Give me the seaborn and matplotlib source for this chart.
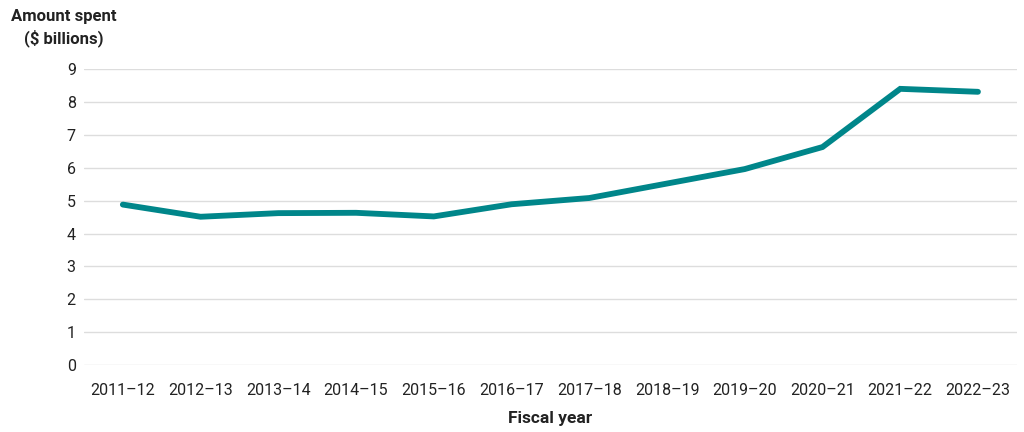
import seaborn as sns
import pandas as pd
import matplotlib.pyplot as plt

# Données
years = ["2011\u201312", "2012\u201313", "2013\u201314", "2014\u201315", "2015\u201316", "2016\u201317",
         "2017\u201318", "2018\u201319", "2019\u201320", "2020\u201321", "2021\u201322", "2022\u201323"]
amounts = [4.88, 4.51, 4.62, 4.63, 4.52, 4.89, 5.08, 5.52, 5.96, 6.63, 8.40, 8.31]

data = pd.DataFrame({"year": years, "amount": amounts})
data["pos"] = range(len(years))

sns.set_style("white")
plt.rcParams["font.family"] = ["Roboto", "DejaVu Sans"]

fig = plt.figure(figsize=(10.24, 4.32), dpi=100)
ax = fig.add_axes([0.082, 0.155, 0.911, 0.685])

sns.lineplot(data=data, x="pos", y="amount", ax=ax, color="#00868a",
             linewidth=4.2, solid_capstyle="round", solid_joinstyle="miter")
for l in ax.lines:
    l.set_clip_on(False)

ax.set_xlim(-0.5, 11.5)
ax.set_ylim(0, 9)
ax.set_yticks(range(10))
ax.set_xticks(data["pos"])
ax.set_xticklabels(years)
ax.grid(axis="y", color="#dddddd", linewidth=1)
ax.set_axisbelow(True)
for s in ax.spines.values():
    s.set_visible(False)
ax.tick_params(axis="x", length=7, width=1, color="#dddddd", pad=6, labelsize=11.5, labelcolor="#222222")
ax.tick_params(axis="y", length=0, pad=6, labelsize=11.5, labelcolor="#222222")

ax.set_xlabel("Fiscal year", fontsize=12.5, fontweight="bold", labelpad=9, color="#222222")
ax.set_ylabel("")
fig.text(0.0625, 0.935, "Amount spent\n($ billions)", ha="center", va="center",
         fontsize=12, fontweight="bold", color="#222222", linespacing=1.35)

plt.savefig("out.png", dpi=100)
